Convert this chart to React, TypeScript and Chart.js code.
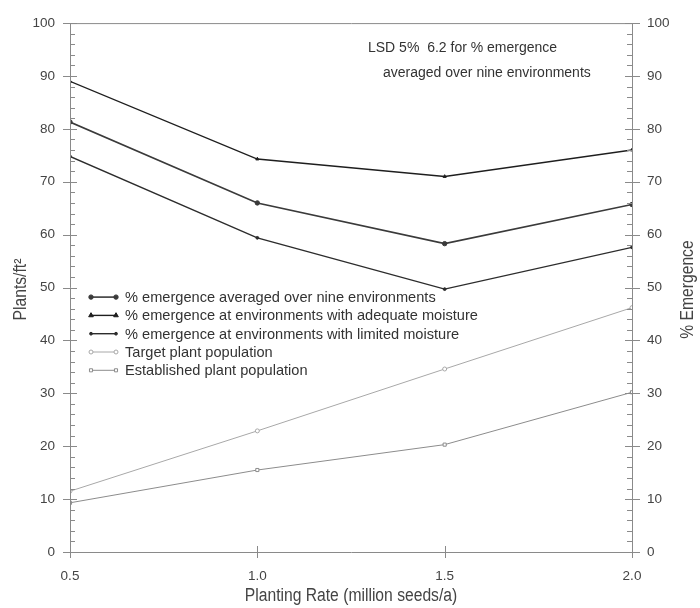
import React, { useEffect, useRef } from "react";
import { Chart, registerables } from "chart.js";

Chart.register(...registerables);

const rates = [0.5, 1.0, 1.5, 2.0];
const xTicks = [0.5, 1.0, 1.5, 2.0];
const avgEmergence = [81.3, 66.0, 58.3, 65.7];
const adequateEmergence = [89.0, 74.3, 71.0, 76.0];
const limitedEmergence = [74.8, 59.4, 49.7, 57.6];
const targetPop = [11.5, 22.9, 34.6, 46.2];
const establishedPop = [9.3, 15.5, 20.3, 30.2];
const seriesLabels = [
  "% emergence averaged over nine environments",
  "% emergence at environments with adequate moisture",
  "% emergence at environments with limited moisture",
  "Target plant population",
  "Established plant population",
];
const noteLines = ["LSD 5%  6.2 for % emergence", "averaged over nine environments"];
const leftTitle = "Plants/ft²";
const rightTitle = "% Emergence";
const bottomTitle = "Planting Rate (million seeds/a)";

const FONT = "'Liberation Sans', Arial, sans-serif";

const pts = (vals: number[]) => vals.map((v, i) => ({ x: rates[i], y: v }));

function marker(ctx: CanvasRenderingContext2D, d: any, px: number, py: number) {
  const r = d.pointRadius;
  ctx.save();
  ctx.fillStyle = d.pointBackgroundColor;
  ctx.strokeStyle = d.pointBorderColor;
  ctx.lineWidth = 1;
  ctx.beginPath();
  if (d.pointStyle === "triangle") {
    const h = r * 1.5;
    ctx.moveTo(px, py - h);
    ctx.lineTo(px + r * 1.3, py + r * 0.75);
    ctx.lineTo(px - r * 1.3, py + r * 0.75);
    ctx.closePath();
  } else if (d.pointStyle === "rect") {
    const s = r * 0.7;
    ctx.rect(px - s, py - s, 2 * s, 2 * s);
  } else {
    ctx.arc(px, py, r, 0, Math.PI * 2);
  }
  ctx.fill();
  ctx.stroke();
  ctx.restore();
}

function narrowText(ctx: CanvasRenderingContext2D, text: string, x: number, y: number, rot: number) {
  ctx.save();
  ctx.translate(x, y);
  ctx.rotate(rot);
  ctx.scale(0.87, 1);
  ctx.fillText(text, 0, 0);
  ctx.restore();
}

const framePlugin = {
  id: "frame",
  afterDraw(chart: any) {
    const { ctx, chartArea } = chart;
    const { left, right, top, bottom } = chartArea;
    const x = chart.scales.x;
    const y = chart.scales.y;
    ctx.save();
    ctx.strokeStyle = "#8a8a8a";
    ctx.lineWidth = 1;
    ctx.beginPath();
    ctx.moveTo(left + 0.5, top + 0.5);
    ctx.lineTo(right + 0.5, top + 0.5);
    ctx.moveTo(left + 0.5, top);
    ctx.lineTo(left + 0.5, bottom + 0.5);
    ctx.moveTo(right + 0.5, top);
    ctx.lineTo(right + 0.5, bottom + 0.5);
    ctx.moveTo(left, bottom + 0.5);
    ctx.lineTo(right + 1, bottom + 0.5);
    ctx.stroke();
    for (let v = 0; v <= 100; v += 2) {
      const py = Math.round(y.getPixelForValue(v)) + 0.5;
      const major = v % 10 === 0;
      ctx.beginPath();
      if (major) {
        ctx.moveTo(left - 7, py);
        ctx.lineTo(left + 7, py);
        ctx.moveTo(right - 7, py);
        ctx.lineTo(right + 8, py);
      } else {
        ctx.moveTo(left, py);
        ctx.lineTo(left + 5, py);
        ctx.moveTo(right - 5, py);
        ctx.lineTo(right, py);
      }
      ctx.stroke();
    }
    xTicks.forEach((v) => {
      const px = Math.round(x.getPixelForValue(v)) + 0.5;
      ctx.beginPath();
      ctx.moveTo(px, bottom - 6);
      ctx.lineTo(px, bottom + 6);
      ctx.stroke();
    });
    // note
    ctx.fillStyle = "#333";
    ctx.font = `14px ${FONT}`;
    ctx.textBaseline = "middle";
    ctx.textAlign = "left";
    ctx.fillText(noteLines[0], left + 298, top + 25);
    ctx.fillText(noteLines[1], left + 313, top + 50);
    // legend
    const ds = chart.data.datasets;
    const lx0 = left + 21;
    const lx1 = left + 46;
    const ly0 = top + 274;
    ctx.font = `14.6px ${FONT}`;
    ds.forEach((d: any, i: number) => {
      const ly = ly0 + i * 18.3;
      ctx.strokeStyle = d.borderColor;
      ctx.lineWidth = d.borderWidth;
      ctx.beginPath();
      ctx.moveTo(lx0, ly);
      ctx.lineTo(lx1, ly);
      ctx.stroke();
      marker(ctx, d, lx0, ly);
      marker(ctx, d, lx1, ly);
      ctx.fillStyle = "#333";
      ctx.fillText(d.label, left + 55, ly + 1);
    });
    // axis titles
    const cy = (top + bottom) / 2 + 2;
    ctx.fillStyle = "#444";
    ctx.textAlign = "center";
    ctx.font = `18px ${FONT}`;
    narrowText(ctx, leftTitle, 21, cy, -Math.PI / 2);
    narrowText(ctx, rightTitle, 688, cy, -Math.PI / 2);
    narrowText(ctx, bottomTitle, (left + right) / 2, bottom + 44, 0);
    ctx.restore();
  },
};

export default function App() {
  const ref = useRef<HTMLCanvasElement | null>(null);
  useEffect(() => {
    if (!ref.current) return;
    const mk = (
      label: string,
      data: number[],
      axis: string,
      color: string,
      width: number,
      style: string,
      radius: number,
      fill: string
    ) => ({
      label,
      data: pts(data),
      yAxisID: axis,
      borderColor: color,
      borderWidth: width,
      pointStyle: style,
      pointRadius: radius,
      pointBorderWidth: 1,
      pointBorderColor: color,
      pointBackgroundColor: fill,
      tension: 0,
    });
    const tickFont = { family: FONT, size: 13.5 };
    const chart = new Chart(ref.current, {
      type: "line",
      data: {
        datasets: [
          mk(seriesLabels[0], avgEmergence, "y2", "#3a3a3a", 1.6, "circle", 2.2, "#3a3a3a"),
          mk(seriesLabels[1], adequateEmergence, "y2", "#1e1e1e", 1.4, "triangle", 1.8, "#1e1e1e"),
          mk(seriesLabels[2], limitedEmergence, "y2", "#2c2c2c", 1.4, "circle", 1.4, "#2c2c2c"),
          mk(seriesLabels[3], targetPop, "y", "#a8a8a8", 1, "circle", 2, "#ffffff"),
          mk(seriesLabels[4], establishedPop, "y", "#8c8c8c", 1, "rect", 2.2, "#ffffff"),
        ],
      },
      options: {
        responsive: false,
        animation: false,
        layout: { padding: { top: 20, left: 0, right: 0, bottom: 0 } },
        plugins: {
          legend: { display: false },
          tooltip: { enabled: false },
        },
        scales: {
          x: {
            type: "linear",
            min: 0.5,
            max: 2.0,
            afterBuildTicks: (s: any) => {
              s.ticks = xTicks.map((v) => ({ value: v }));
            },
            afterFit: (s: any) => {
              s.height = 56;
            },
            grid: { display: false, drawTicks: false },
            border: { display: false },
            ticks: {
              padding: 16,
              color: "#444",
              font: tickFont,
              callback: (v: any) => Number(v).toFixed(1),
            },
          },
          y: {
            position: "left",
            min: 0,
            max: 100,
            afterFit: (s: any) => {
              s.width = 70;
            },
            grid: { display: false, drawTicks: false },
            border: { display: false },
            ticks: {
              stepSize: 10,
              padding: 15,
              color: "#444",
              font: tickFont,
            },
          },
          y2: {
            position: "right",
            min: 0,
            max: 100,
            afterFit: (s: any) => {
              s.width = 68;
            },
            grid: { display: false, drawTicks: false },
            border: { display: false },
            ticks: {
              stepSize: 10,
              padding: 15,
              color: "#444",
              font: tickFont,
            },
          },
        },
      },
      plugins: [framePlugin],
    } as any);
    return () => chart.destroy();
  }, []);
  return (
    <div style={{ position: "fixed", left: 0, top: 0, width: 700, height: 608, background: "#fff" }}>
      <canvas ref={ref} width={700} height={608} />
    </div>
  );
}
